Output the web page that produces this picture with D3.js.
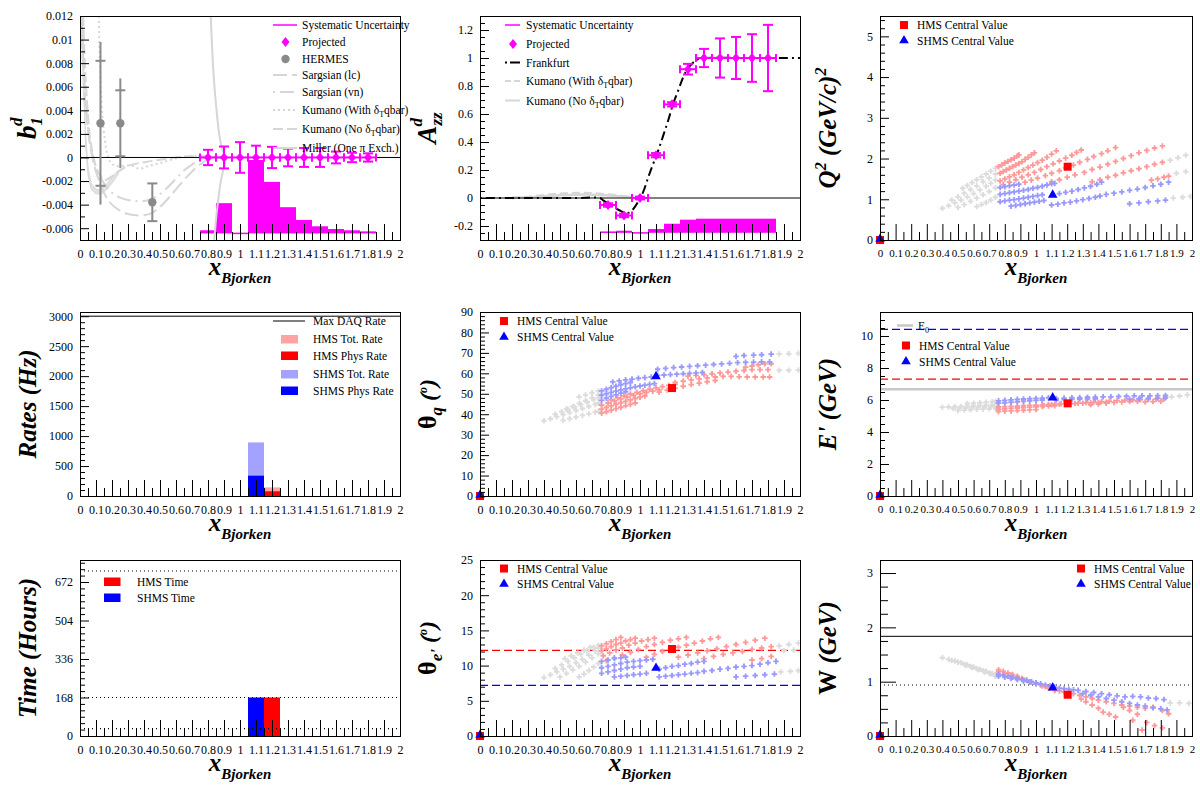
<!DOCTYPE html>
<html><head><meta charset="utf-8">
<script src="https://cdn.jsdelivr.net/npm/d3@7/dist/d3.min.js"></script>
<style>html,body{margin:0;padding:0;background:#fff;}svg{display:block;}</style>
</head><body>
<script>
// ---------------- DATA ----------------
const xLabels = ['0','0.1','0.2','0.3','0.4','0.5','0.6','0.7','0.8','0.9','1','1.1','1.2','1.3','1.4','1.5','1.6','1.7','1.8','1.9','2'];

// b1 panel
const projX = [0.8,0.9,1.0,1.1,1.2,1.3,1.4,1.5,1.6,1.7,1.8];
const b1Proj = [0,0,0,0,0,0,0,0,0,0,0];
const b1Err = [0.00065,0.00093,0.0013,0.001,0.0009,0.00075,0.0008,0.0008,0.0005,0.0004,0.00035];
const b1SysTop = [-0.00624,-0.00394,-0.00644,-0.00028,-0.00213,-0.00428,-0.00536,-0.0059,-0.00613,-0.00624,-0.00633];
const b1SysBase = -0.00644;
const hermesX = [0.128,0.252,0.452];
const hermesY = [0.0029,0.0029,-0.0038];
const hermesStat = [0.0053,0.0028,0.0016];
const hermesTot = [0.0069,0.0038,0.0016];
const sargLc = [[0.005,0.012],[0.02,0.0075],[0.04,0.0035],[0.07,0.0005],[0.1,-0.0012],[0.15,-0.003],[0.2,-0.004],[0.25,-0.0045],[0.3,-0.0048],[0.35,-0.0049],[0.4,-0.0049],[0.45,-0.0047],[0.5,-0.0042],[0.55,-0.0035],[0.6,-0.0027],[0.65,-0.0019],[0.7,-0.0012],[0.75,-0.0006],[0.8,-0.0002],[0.9,0]];
const sargVn = [[0.01,0.012],[0.03,0.006],[0.06,0.0015],[0.1,-0.0008],[0.15,-0.0022],[0.2,-0.003],[0.25,-0.0034],[0.3,-0.0036],[0.35,-0.0037],[0.4,-0.0037],[0.45,-0.0035],[0.5,-0.0031],[0.55,-0.0025],[0.6,-0.0018],[0.65,-0.0011],[0.7,-0.0006],[0.75,-0.0002],[0.8,0],[0.9,0]];
const kumWith = [[0.118,0.012],[0.122,0.009],[0.13,0.006],[0.14,0.0035],[0.155,0.0015],[0.17,0.0003],[0.19,-0.0004],[0.22,-0.0007],[0.32,-0.0007],[0.375,-0.00096],[0.417,-0.00077],[0.5,-0.00048],[0.583,-0.00014],[0.69,0.00014],[0.8,0.0001],[0.9,0]];
const kumNo = [[0.02,0.012],[0.03,0.008],[0.045,0.0045],[0.06,0.002],[0.08,0.0003],[0.1,-0.0008],[0.13,-0.0016],[0.16,-0.0019],[0.2,-0.0016],[0.25,-0.0011],[0.3,-0.0007],[0.4,-0.0004],[0.5,-0.0002],[0.6,0],[0.7,0.0001],[0.9,0]];
const millerPole = [[0.817,0.012],[0.825,0.0095],[0.835,0.007],[0.85,0.0045],[0.865,0.0025],[0.88,0.0012],[0.9,0.0003],[0.912,0.0],[0.9,-0.0008],[0.88,-0.002],[0.865,-0.0035],[0.852,-0.005],[0.842,-0.0065],[0.838,-0.007]];
const millerBand = [[0.01,0.012],[0.02,0.006],[0.035,0.002],[0.05,-0.0008],[0.07,-0.0022],[0.1,-0.0027],[0.13,-0.0027],[0.17,-0.0022],[0.21,-0.0015],[0.24,-0.0011],[0.24,-0.0014],[0.21,-0.002],[0.17,-0.0027],[0.13,-0.0031],[0.1,-0.0031],[0.07,-0.0027],[0.05,-0.0015],[0.035,0.001],[0.025,0.006],[0.018,0.012]];

// Azz panel
const azzProj = [-0.05,-0.125,0,0.306,0.669,0.92,1,1,1,1,1];
const azzErr = [0.012,0.012,0.01,0.015,0.015,0.038,0.065,0.14,0.15,0.17,0.237];
const azzSysTop = [-0.244,-0.239,-0.2495,-0.227,-0.189,-0.16,-0.153,-0.153,-0.153,-0.153,-0.153];
const azzSysBase = -0.2485;
const frankfurt = [[0,0],[0.3,0],[0.6,0],[0.75,0],[0.77,-0.017],[0.81,-0.045],[0.865,-0.084],[0.917,-0.11],[0.954,-0.084],[0.99,-0.024],[1.02,0.043],[1.052,0.15],[1.083,0.246],[1.115,0.342],[1.146,0.449],[1.177,0.557],[1.208,0.676],[1.24,0.772],[1.27,0.863],[1.3,0.927],[1.333,0.968],[1.365,0.992],[1.417,1.0],[1.7,1.0],[2.0,1.0]];
const azzKumWith = [[0.2,0.0],[0.3,0.008],[0.4,0.02],[0.5,0.03],[0.6,0.035],[0.7,0.033],[0.8,0.025],[0.9,0.012],[0.95,0.005]];
const azzKumNo = [[0.2,0.0],[0.3,0.005],[0.4,0.013],[0.5,0.02],[0.6,0.024],[0.7,0.024],[0.8,0.018],[0.9,0.01],[0.95,0.004]];

// Q2 panel
const q2Grey = [
 [[0.53,1.27],[0.56,1.34],[0.59,1.41],[0.62,1.48],[0.65,1.55],[0.68,1.62],[0.71,1.69],[0.74,1.76]],
 [[0.46,0.98],[0.50,1.06],[0.54,1.15],[0.58,1.24],[0.62,1.33],[0.66,1.43],[0.70,1.52],[0.74,1.62]],
 [[0.40,0.78],[0.44,0.84],[0.48,0.91],[0.52,0.98],[0.56,1.06],[0.60,1.14],[0.64,1.23],[0.68,1.32],[0.71,1.39],[0.74,1.47]],
 [[0.50,0.80],[0.54,0.87],[0.58,0.95],[0.62,1.03],[0.66,1.11],[0.70,1.19],[0.74,1.28]],
 [[0.62,0.82],[0.65,0.87],[0.68,0.92],[0.71,0.98],[0.74,1.05]],
 [[1.86,1.96],[1.91,2.02],[1.96,2.08]],
 [[1.90,1.64],[1.96,1.68]],
 [[1.88,1.03],[1.94,1.05],[1.99,1.07]]];
const q2Red = [
 [[0.76,1.80],[0.78,1.84],[0.80,1.89],[0.82,1.93],[0.84,1.97],[0.86,2.01],[0.88,2.06],[0.89,2.09]],
 [[0.77,1.64],[0.79,1.68],[0.81,1.72],[0.83,1.76],[0.85,1.80],[0.87,1.84],[0.89,1.88],[0.91,1.92],[0.93,1.98],[0.95,2.03],[0.97,2.09],[0.99,2.14]],
 [[0.77,1.45],[0.80,1.50],[0.83,1.55],[0.86,1.60],[0.89,1.66],[0.92,1.72],[0.95,1.78],[0.98,1.84],[1.01,1.90],[1.04,1.96],[1.07,2.03],[1.10,2.11],[1.13,2.19]],
 [[0.79,1.36],[0.83,1.42],[0.87,1.48],[0.91,1.54],[0.95,1.60],[0.99,1.66],[1.03,1.73],[1.07,1.80],[1.11,1.87],[1.15,1.94],[1.19,2.01],[1.23,2.08],[1.26,2.15],[1.29,2.21]],
 [[0.93,1.42],[0.97,1.47],[1.01,1.52],[1.06,1.58],[1.10,1.64],[1.15,1.70],[1.19,1.77],[1.24,1.84],[1.28,1.91],[1.33,1.98],[1.37,2.05],[1.42,2.12],[1.46,2.19],[1.51,2.27]],
 [[1.10,1.43],[1.15,1.48],[1.20,1.54],[1.25,1.60],[1.31,1.66],[1.36,1.73],[1.41,1.79],[1.46,1.86],[1.51,1.93],[1.56,2.00],[1.61,2.07],[1.66,2.14],[1.71,2.20],[1.76,2.26],[1.81,2.31]],
 [[1.36,1.43],[1.41,1.48],[1.46,1.54],[1.51,1.59],[1.56,1.65],[1.61,1.70],[1.66,1.75],[1.71,1.80],[1.76,1.86],[1.81,1.91]],
 [[1.74,1.47],[1.78,1.50],[1.82,1.54],[1.85,1.57]]];
const q2Blue = [
 [[0.77,1.29],[0.80,1.31],[0.83,1.33],[0.86,1.35],[0.89,1.37]],
 [[0.77,1.12],[0.80,1.14],[0.83,1.16],[0.86,1.18],[0.89,1.20],[0.92,1.22],[0.95,1.24],[0.98,1.27],[1.01,1.29],[1.04,1.32],[1.07,1.35],[1.10,1.38],[1.12,1.39]],
 [[0.77,0.94],[0.80,0.96],[0.83,0.98],[0.86,0.99],[0.89,1.01],[0.92,1.03],[0.95,1.05],[0.98,1.07],[1.01,1.09],[1.04,1.11]],
 [[0.84,0.83],[0.87,0.85],[0.90,0.87],[0.93,0.89],[0.96,0.91],[0.99,0.93],[1.02,0.95],[1.05,0.97]],
 [[1.10,0.86],[1.14,0.88],[1.18,0.91],[1.22,0.93],[1.26,0.96],[1.30,0.99],[1.34,1.02],[1.38,1.05],[1.41,1.08]],
 [[1.15,1.14],[1.19,1.17],[1.23,1.20],[1.27,1.24],[1.31,1.28],[1.35,1.32],[1.39,1.37],[1.42,1.42]],
 [[1.45,1.12],[1.50,1.15],[1.55,1.18],[1.60,1.22],[1.65,1.25],[1.70,1.29],[1.75,1.33],[1.80,1.37],[1.85,1.42]],
 [[1.60,0.89],[1.66,0.91],[1.72,0.94],[1.78,0.96],[1.83,0.98]]];
const hmsQ2 = [1.203,1.80], shmsQ2 = [1.107,1.107];

// Rates panel
const shmsBin = [1.05,1.15], hmsBin = [1.15,1.25];
const shmsTotRate = 894, shmsPhysRate = 339, hmsTotRate = 144, hmsPhysRate = 78;
const maxDaqRate = 3000;

// theta_q panel
const thqGrey = [
 [[0.40,36.8],[0.44,37.8],[0.48,38.8],[0.52,39.8],[0.56,40.8],[0.60,41.8],[0.64,42.8],[0.68,43.8],[0.72,44.8],[0.74,45.4]],
 [[0.47,40.0],[0.51,41.2],[0.55,42.4],[0.59,43.6],[0.63,44.8],[0.67,46.0],[0.71,47.2],[0.74,48.0]],
 [[0.54,42.5],[0.58,43.8],[0.62,45.2],[0.66,46.6],[0.70,48.0],[0.74,49.4]],
 [[0.62,48.5],[0.66,49.5],[0.70,50.5],[0.74,51.4]],
 [[0.52,37.0],[0.56,37.8],[0.60,38.6],[0.64,39.4],[0.68,40.2],[0.72,41.0],[0.74,41.4]],
 [[1.87,69.5],[1.93,69.6],[1.99,69.8]],
 [[1.87,61.5],[1.93,61.5],[1.99,61.6]]];
const thqRed = [
 [[0.76,40.5],[0.79,41.2],[0.82,42.0],[0.85,42.7],[0.88,43.4],[0.91,44.1],[0.94,44.8],[0.97,45.5]],
 [[0.76,42.5],[0.79,43.3],[0.82,44.1],[0.85,44.9],[0.88,45.6],[0.91,46.3],[0.94,47.0],[0.97,47.7],[1.00,48.3],[1.03,48.9]],
 [[0.76,44.5],[0.80,45.5],[0.84,46.5],[0.88,47.5],[0.92,48.4],[0.96,49.2],[1.00,50.0],[1.04,50.7],[1.08,51.3],[1.12,51.9]],
 [[0.82,47.0],[0.86,48.0],[0.90,49.0],[0.94,49.9],[0.98,50.7],[1.02,51.5],[1.06,52.2],[1.10,52.9],[1.14,53.5],[1.18,54.1],[1.22,54.6]],
 [[1.12,50.8],[1.17,51.8],[1.22,52.8],[1.27,53.7],[1.32,54.5],[1.37,55.2],[1.42,55.9],[1.47,56.5]],
 [[1.22,55.5],[1.27,56.2],[1.32,56.8],[1.37,57.3],[1.42,57.8],[1.47,58.2],[1.52,58.5],[1.57,58.5],[1.62,58.3],[1.67,58.2],[1.72,58.2],[1.77,58.2],[1.81,58.2]],
 [[1.30,58.6],[1.35,59.0],[1.40,59.4],[1.45,59.8],[1.50,60.2],[1.55,60.6],[1.60,61.0],[1.65,61.4],[1.70,61.8],[1.75,61.8],[1.80,61.8]],
 [[1.66,63.0],[1.70,63.6],[1.74,64.2],[1.78,64.7],[1.82,64.7]]];
const thqBlue = [
 [[0.76,46.8],[0.79,47.8],[0.82,48.7],[0.85,49.5],[0.88,50.3],[0.91,51.0]],
 [[0.76,49.3],[0.79,50.0],[0.82,50.7],[0.85,51.3],[0.88,51.9],[0.91,52.4],[0.94,52.9],[0.97,53.4],[1.00,53.8],[1.03,54.2],[1.06,54.6],[1.09,55.0]],
 [[0.76,51.4],[0.79,52.2],[0.82,53.0],[0.85,53.7],[0.88,54.4],[0.91,55.0],[0.94,55.5]],
 [[0.83,55.8],[0.87,56.3],[0.91,56.8],[0.95,57.2],[0.99,57.6],[1.03,57.9],[1.07,58.2]],
 [[1.11,59.0],[1.15,59.2],[1.19,59.4],[1.23,59.6],[1.27,59.8],[1.31,60.0],[1.35,60.2],[1.39,60.4]],
 [[1.11,62.0],[1.16,62.4],[1.21,62.8],[1.26,63.1],[1.31,63.4],[1.36,63.7],[1.41,64.0],[1.46,64.3],[1.51,64.6],[1.56,64.9],[1.61,65.2],[1.66,65.4],[1.71,65.5],[1.76,65.6],[1.81,65.6]],
 [[1.60,68.3],[1.65,68.7],[1.71,68.9],[1.76,69.1],[1.82,69.4]]];
const hmsThq = [1.2,52.8], shmsThq = [1.1,58.5];

// E' panel
const epGrey = [
 [[0.40,5.55],[0.44,5.56],[0.48,5.58],[0.52,5.60],[0.56,5.62],[0.60,5.64],[0.64,5.66],[0.68,5.68],[0.72,5.70],[0.74,5.71]],
 [[0.50,5.35],[0.54,5.37],[0.58,5.39],[0.62,5.41],[0.66,5.43],[0.70,5.45],[0.74,5.47]],
 [[0.47,5.47],[0.51,5.49],[0.55,5.51],[0.59,5.53],[0.63,5.55],[0.67,5.57],[0.71,5.59],[0.74,5.60]],
 [[0.56,5.78],[0.60,5.80],[0.64,5.83],[0.68,5.86],[0.72,5.89],[0.74,5.91]],
 [[1.87,6.20],[1.92,6.25],[1.97,6.32]]];
const epRed = [
 [[0.76,5.28],[0.80,5.30],[0.84,5.32],[0.88,5.34],[0.92,5.36],[0.96,5.38],[1.00,5.40]],
 [[0.76,5.42],[0.80,5.45],[0.84,5.48],[0.88,5.50],[0.92,5.52],[0.96,5.55],[1.00,5.57],[1.04,5.60],[1.08,5.62],[1.12,5.64]],
 [[0.76,5.56],[0.80,5.58],[0.84,5.60],[0.88,5.62],[0.92,5.64],[0.96,5.66],[1.00,5.68],[1.04,5.70],[1.08,5.72],[1.12,5.74],[1.16,5.76],[1.20,5.78]],
 [[1.00,5.62],[1.05,5.66],[1.10,5.70],[1.15,5.73],[1.20,5.76],[1.25,5.78],[1.30,5.80],[1.35,5.82],[1.40,5.84],[1.45,5.86]],
 [[1.22,5.76],[1.27,5.80],[1.32,5.84],[1.37,5.87],[1.42,5.90],[1.47,5.93],[1.52,5.96],[1.57,5.98],[1.62,6.00],[1.67,6.02],[1.72,6.04],[1.77,6.05],[1.82,6.07]],
 [[1.35,5.70],[1.40,5.75],[1.45,5.80],[1.50,5.85],[1.55,5.88],[1.60,5.90],[1.65,5.92],[1.70,5.88],[1.75,5.90],[1.80,5.92]]];
const epBlue = [
 [[0.76,5.95],[0.80,5.98],[0.84,6.01],[0.88,6.04],[0.92,6.06],[0.96,6.08],[1.00,6.10],[1.04,6.12],[1.08,6.14]],
 [[0.76,5.80],[0.80,5.83],[0.84,5.86],[0.88,5.89],[0.92,5.92],[0.96,5.95],[1.00,5.98],[1.04,6.00]],
 [[1.13,6.10],[1.18,6.12],[1.23,6.14],[1.28,6.15],[1.33,6.17],[1.38,6.18],[1.43,6.20],[1.48,6.20],[1.53,6.22],[1.58,6.24],[1.63,6.26],[1.68,6.26],[1.73,6.26],[1.78,6.27],[1.83,6.28]],
 [[1.13,6.00],[1.18,6.02],[1.23,6.04],[1.28,6.06],[1.33,6.07],[1.38,6.08],[1.60,6.05],[1.66,6.08],[1.72,6.10],[1.78,6.12],[1.83,6.14]]];
const hmsEp = [1.203,5.79], shmsEp = [1.107,6.15];
const e0Line = 6.67, hmsMaxP = 7.31, shmsMaxP = 10.42;

// Time panel
const shmsTime = 168, hmsTime = 168;
const timeDotted = [720,168,32];

// theta_e panel
const theGrey = [
 [[0.40,8.3],[0.44,8.7],[0.48,9.1],[0.52,9.5],[0.56,9.9],[0.60,10.4],[0.64,10.9],[0.68,11.5],[0.72,12.1],[0.74,12.5]],
 [[0.50,8.4],[0.54,8.9],[0.58,9.4],[0.62,9.9],[0.66,10.5],[0.70,11.1],[0.74,11.7]],
 [[0.47,9.6],[0.51,10.1],[0.55,10.6],[0.59,11.1],[0.63,11.6],[0.67,12.1],[0.71,12.6],[0.74,12.9]],
 [[0.62,8.4],[0.65,8.8],[0.68,9.3],[0.71,9.8],[0.74,10.3]],
 [[0.53,11.0],[0.57,11.4],[0.61,11.8],[0.65,12.2],[0.69,12.6]],
 [[1.87,12.8],[1.93,13.0],[1.99,13.2]],
 [[1.90,12.1],[1.96,12.2]],
 [[1.88,9.1],[1.94,9.2],[1.99,9.3]]];
const theRed = [
 [[0.76,12.8],[0.79,13.1],[0.82,13.4],[0.85,13.7],[0.88,14.0]],
 [[0.76,12.1],[0.79,12.4],[0.82,12.7],[0.85,13.0],[0.88,13.2],[0.91,13.5],[0.94,13.7],[0.97,13.9]],
 [[0.77,11.4],[0.81,11.8],[0.85,12.2],[0.89,12.5],[0.93,12.9],[0.97,13.2],[1.01,13.5],[1.05,13.7],[1.09,13.9]],
 [[0.79,10.7],[0.84,11.1],[0.89,11.5],[0.94,11.9],[0.99,12.3],[1.04,12.7],[1.09,13.0],[1.14,13.3],[1.19,13.6],[1.24,13.8],[1.29,14.0]],
 [[1.04,11.2],[1.09,11.6],[1.14,12.0],[1.19,12.3],[1.24,12.6],[1.29,12.9],[1.34,13.2],[1.39,13.5],[1.44,13.8],[1.49,14.0]],
 [[1.24,11.2],[1.30,11.5],[1.36,11.8],[1.42,12.1],[1.48,12.4],[1.54,12.7],[1.60,13.0],[1.66,13.3],[1.72,13.6],[1.78,13.9]],
 [[1.40,11.0],[1.46,11.3],[1.52,11.6],[1.58,11.8],[1.64,12.0],[1.70,12.3],[1.76,12.5],[1.82,12.7]],
 [[1.70,10.8],[1.76,11.0],[1.82,11.3]]];
const theBlue = [
 [[0.76,10.6],[0.80,10.8],[0.84,11.0],[0.88,11.1],[0.91,11.2]],
 [[0.76,9.7],[0.80,9.9],[0.84,10.1],[0.88,10.3],[0.92,10.5],[0.96,10.6],[1.00,10.7],[1.04,10.8],[1.08,10.9]],
 [[0.76,8.9],[0.80,9.1],[0.84,9.3],[0.88,9.5],[0.92,9.7],[0.96,9.8],[1.00,9.9]],
 [[0.84,8.4],[0.88,8.5],[0.92,8.6],[0.96,8.7],[1.00,8.8],[1.04,8.9]],
 [[1.12,9.5],[1.16,9.7],[1.20,9.9],[1.24,10.0],[1.28,10.2],[1.32,10.3],[1.36,10.5],[1.40,10.6]],
 [[1.12,8.4],[1.16,8.5],[1.20,8.6],[1.24,8.7],[1.28,8.8],[1.32,8.9],[1.36,9.0],[1.40,9.2],[1.45,9.3],[1.50,9.5],[1.55,9.6],[1.60,9.8],[1.65,9.9],[1.70,10.0],[1.75,10.2],[1.80,10.4],[1.85,10.6]],
 [[1.60,8.4],[1.66,8.5],[1.72,8.6],[1.78,8.7],[1.84,8.8]]];
const hmsThe = [1.2,12.36], shmsThe = [1.1,9.66];
const hmsMinAngle = 12.17, shmsMinAngle = 7.2;

// W panel
const wGrey = [
 [[0.40,1.44],[0.44,1.41],[0.48,1.38],[0.52,1.35],[0.56,1.31],[0.60,1.27],[0.64,1.23],[0.68,1.19],[0.72,1.15],[0.74,1.13]],
 [[0.46,1.39],[0.50,1.36],[0.54,1.32],[0.58,1.28],[0.62,1.24],[0.66,1.20],[0.70,1.16],[0.74,1.12]],
 [[0.55,1.30],[0.59,1.26],[0.63,1.22],[0.67,1.18],[0.71,1.14],[0.74,1.10]],
 [[1.86,0.61],[1.92,0.61],[1.98,0.60]]];
const wRed = [
 [[0.76,1.22],[0.79,1.19],[0.82,1.16],[0.85,1.13],[0.88,1.10],[0.91,1.06],[0.94,1.03],[0.97,1.00],[1.00,0.97],[1.03,0.94],[1.06,0.91],[1.09,0.88],[1.12,0.85],[1.15,0.83],[1.18,0.81],[1.21,0.79]],
 [[0.76,1.18],[0.80,1.15],[0.84,1.12],[0.88,1.08],[0.92,1.04],[0.96,1.00],[1.00,0.96],[1.04,0.92],[1.08,0.88],[1.12,0.84]],
 [[1.24,0.78],[1.28,0.75],[1.32,0.72],[1.36,0.69],[1.40,0.66],[1.45,0.63],[1.50,0.60],[1.55,0.57],[1.60,0.55],[1.65,0.53],[1.70,0.51],[1.75,0.53],[1.81,0.47],[1.85,0.41]],
 [[1.29,0.68],[1.32,0.63],[1.36,0.57],[1.40,0.51],[1.43,0.44],[1.47,0.40],[1.51,0.35]],
 [[1.56,0.53],[1.60,0.47],[1.65,0.40],[1.71,0.25],[1.76,0.19],[1.81,0.15]],
 [[1.62,0.29],[1.68,0.11]]];
const wBlue = [
 [[0.76,1.14],[0.79,1.12],[0.82,1.10],[0.85,1.08],[0.88,1.06],[0.91,1.04],[0.94,1.02],[0.97,1.00],[1.00,0.98],[1.03,0.96],[1.06,0.94],[1.09,0.92],[1.12,0.90],[1.15,0.88],[1.18,0.87],[1.21,0.86],[1.24,0.85]],
 [[0.76,1.10],[0.80,1.08],[0.84,1.06],[0.88,1.04],[0.92,1.01],[0.96,0.99],[1.00,0.96]],
 [[1.27,0.84],[1.32,0.82],[1.37,0.80],[1.42,0.78],[1.47,0.76],[1.52,0.74],[1.57,0.72],[1.62,0.73],[1.67,0.72],[1.72,0.70],[1.77,0.69],[1.82,0.67]],
 [[1.30,0.78],[1.35,0.75],[1.40,0.72],[1.45,0.69],[1.50,0.66],[1.55,0.63],[1.60,0.60],[1.65,0.57],[1.70,0.55],[1.75,0.52],[1.80,0.50],[1.84,0.48]]];
const hmsW = [1.203,0.76], shmsW = [1.107,0.89];
const wSolid = 1.835, wDotted = 0.939;

// y-axis ticks
const b1YMajor = [-0.006,-0.004,-0.002,0,0.002,0.004,0.006,0.008,0.01,0.012];
const b1YLabels = ['-0.006','-0.004','-0.002','0','0.002','0.004','0.006','0.008','0.01','0.012'];
const azzYMajor = [-0.2,0,0.2,0.4,0.6,0.8,1,1.2];
const azzYLabels = ['-0.2','0','0.2','0.4','0.6','0.8','1','1.2'];
const q2YMajor = [0,1,2,3,4,5], q2YLabels = ['0','1','2','3','4','5'];
const rateYMajor = [0,500,1000,1500,2000,2500,3000], rateYLabels = ['0','500','1000','1500','2000','2500','3000'];
const thqYMajor = [0,10,20,30,40,50,60,70,80,90], thqYLabels = ['0','10','20','30','40','50','60','70','80','90'];
const epYMajor = [0,2,4,6,8,10], epYLabels = ['0','2','4','6','8','10'];
const timeYMajor = [0,168,336,504,672], timeYLabels = ['0','168','336','504','672'];
const theYMajor = [0,5,10,15,20,25], theYLabels = ['0','5','10','15','20','25'];
const wYMajor = [0,1,2,3], wYLabels = ['0','1','2','3'];

// ---------------- DRAWING ----------------
const FONT = '"Liberation Serif","Times New Roman",Times,serif';
const MAG = '#ff00ff', LRED = '#ff9999', LBLUE = '#9999ff', LGREY = '#dcdcdc', CURVE = '#d6d6d6';
const cols = [[80,400],[480,800],[880,1192]];
const rows = [[16,240],[312,496],[560,736]];
const xMajor = xLabels.map(Number);
const xMinor = d3.range(0.05, 2, 0.1);

const svg = d3.select('body').append('svg').attr('width',1200).attr('height',800);
svg.append('rect').attr('width',1200).attr('height',800).attr('fill','#fff');
const defs = svg.append('defs');
let clipN = 0;

function makePanel(c, r, yDomain) {
  const [x0,x1] = cols[c], [y0,y1] = rows[r];
  const x = d3.scaleLinear().domain([0,2]).range([x0,x1]);
  const y = d3.scaleLinear().domain(yDomain).range([y1,y0]);
  const id = 'clip' + (clipN++);
  defs.append('clipPath').attr('id',id).append('rect').attr('x',x0).attr('y',y0).attr('width',x1-x0).attr('height',y1-y0);
  const plot = svg.append('g').attr('clip-path',`url(#${id})`);
  return {x,y,plot,x0,x1,y0,y1,c};
}
function minorTicks(domain, step, majors) {
  const out = [];
  const n0 = Math.ceil(domain[0]/step - 1e-9), n1 = Math.floor(domain[1]/step + 1e-9);
  for (let k=n0;k<=n1;k++){ const v=k*step; if(!majors.some(m=>Math.abs(m-v)<step*1e-3)) out.push(v); }
  return out;
}
function drawAxes(p, yMajor, yLabels, yMinor, tl) {
  tl = tl || [9,5];
  const style = (fs) => g => { g.select('.domain').remove(); g.attr('font-family',FONT).attr('font-size',fs);
    g.selectAll('text').attr('fill','#000'); g.selectAll('line').attr('stroke','#000'); };
  const xfs = p.c === 2 ? 11 : 12;
  svg.append('g').attr('transform',`translate(0,${p.y1})`)
    .call(d3.axisBottom(p.x).tickValues(xMajor).tickSize(-16).tickSizeOuter(0).tickPadding(9).tickFormat((d,i)=>xLabels[i])).call(style(xfs));
  svg.append('g').attr('transform',`translate(0,${p.y1})`)
    .call(d3.axisBottom(p.x).tickValues(xMinor).tickSize(-8).tickSizeOuter(0).tickFormat('')).call(style(12));
  svg.append('g').attr('transform',`translate(${p.x0},0)`)
    .call(d3.axisLeft(p.y).tickValues(yMajor).tickSize(-tl[0]).tickSizeOuter(0).tickPadding(7).tickFormat((d,i)=>yLabels[i])).call(style(12));
  svg.append('g').attr('transform',`translate(${p.x0},0)`)
    .call(d3.axisLeft(p.y).tickValues(yMinor).tickSize(-tl[1]).tickSizeOuter(0).tickFormat('')).call(style(12));
  svg.append('rect').attr('x',p.x0+0.5).attr('y',p.y0+0.5).attr('width',p.x1-p.x0).attr('height',p.y1-p.y0)
    .attr('fill','none').attr('stroke','#000').attr('stroke-width',1);
}
function xTitle(p) {
  const t = svg.append('text').attr('x',(p.x0+p.x1)/2).attr('y',p.y1+35).attr('text-anchor','middle')
    .attr('font-family',FONT).attr('font-weight','bold').attr('font-style','italic');
  t.append('tspan').attr('font-size',25).text('x');
  t.append('tspan').attr('font-size',15).attr('dy',8).text('Bjorken');
}
function yTitle(p, parts) {
  const t = svg.append('text').attr('transform',`translate(${p.x0-44},${(p.y0+p.y1)/2}) rotate(-90)`)
    .attr('text-anchor','middle').attr('font-family',FONT).attr('font-weight','bold').attr('font-style','italic');
  parts.forEach(q => { const s = t.append('tspan').attr('font-size',q.s).text(q.t);
    if (q.dy) s.attr('dy',q.dy); if (q.dx) s.attr('dx',q.dx); if (q.st) s.attr('font-style',q.st); });
}
function legText(x, y, parts) {
  const t = svg.append('text').attr('x',x).attr('y',y+4).attr('font-family',FONT).attr('font-size',11.5).attr('fill','#000');
  if (typeof parts === 'string') parts = [{t:parts}];
  parts.forEach(q => { const s = t.append('tspan').text(q.t); if (q.dy) s.attr('dy',q.dy); if (q.s) s.attr('font-size',q.s); });
  return t;
}
const lineGen = (p, curve) => d3.line().x(d=>p.x(d[0])).y(d=>p.y(d[1])).curve(curve || d3.curveLinear);
const crossSym = d3.symbol().type(d3.symbolCross).size(17);
function scatter(p, bands, color) {
  p.plot.append('g').selectAll('path').data(bands.flat()).join('path')
    .attr('d', crossSym).attr('transform', d=>`translate(${p.x(d[0])},${p.y(d[1])})`).attr('fill', color);
}
const sqSym = d3.symbol().type(d3.symbolSquare).size(64);
const triSym = d3.symbol().type(d3.symbolTriangle).size(40);
function centrals(p, hms, shms) {
  const g = svg.append('g');
  g.append('path').attr('d',sqSym).attr('transform',`translate(${p.x(0)},${p.y(0)})`).attr('fill','#ff0000');
  g.append('path').attr('d',triSym).attr('transform',`translate(${p.x(0)},${p.y(0)-1})`).attr('fill','#0000ff');
  g.append('path').attr('d',sqSym).attr('transform',`translate(${p.x(hms[0])},${p.y(hms[1])})`).attr('fill','#ff0000');
  g.append('path').attr('d',triSym).attr('transform',`translate(${p.x(shms[0])},${p.y(shms[1])})`).attr('fill','#0000ff');
}
function centralLegend(xs, y1, y2) {
  svg.append('path').attr('d',sqSym).attr('transform',`translate(${xs},${y1})`).attr('fill','#ff0000');
  legText(xs+13, y1, 'HMS Central Value');
  svg.append('path').attr('d',triSym).attr('transform',`translate(${xs},${y2})`).attr('fill','#0000ff');
  legText(xs+13, y2, 'SHMS Central Value');
}
function diamond(g, cx, cy) {
  g.append('path').attr('d',`M${cx},${cy-5}L${cx+4},${cy}L${cx},${cy+5}L${cx-4},${cy}Z`).attr('fill',MAG);
}
function projected(p, vals, errs) {
  const g = p.plot.append('g').attr('stroke',MAG).attr('stroke-width',2);
  projX.forEach((xv,i) => {
    const cy = p.y(vals[i]), xa = p.x(xv-0.05), xb = p.x(xv+0.05), cx = p.x(xv);
    g.append('line').attr('x1',xa).attr('x2',xb).attr('y1',cy).attr('y2',cy);
    g.append('line').attr('x1',xa).attr('x2',xa).attr('y1',cy-4).attr('y2',cy+4);
    g.append('line').attr('x1',xb).attr('x2',xb).attr('y1',cy-4).attr('y2',cy+4);
    const ya = p.y(vals[i]+errs[i]), yb = p.y(vals[i]-errs[i]);
    g.append('line').attr('x1',cx).attr('x2',cx).attr('y1',ya).attr('y2',yb);
    g.append('line').attr('x1',cx-5).attr('x2',cx+5).attr('y1',ya).attr('y2',ya);
    g.append('line').attr('x1',cx-5).attr('x2',cx+5).attr('y1',yb).attr('y2',yb);
    diamond(p.plot, cx, cy);
  });
}
function sysBars(p, tops, base) {
  const g = p.plot.append('g');
  projX.forEach((xv,i) => {
    const ya = p.y(Math.max(tops[i],base)), yb = p.y(Math.min(tops[i],base));
    g.append('rect').attr('x',p.x(xv-0.05)).attr('width',p.x(0.1)-p.x(0)).attr('y',ya).attr('height',Math.max(yb-ya,0)).attr('fill',MAG);
    g.append('line').attr('x1',p.x(xv-0.05)).attr('x2',p.x(xv+0.05)).attr('y1',p.y(tops[i])).attr('y2',p.y(tops[i])).attr('stroke',MAG).attr('stroke-width',1.5);
  });
}
function hline(p, v, color, dash, w) {
  p.plot.append('line').attr('x1',p.x(0)).attr('x2',p.x(2)).attr('y1',p.y(v)).attr('y2',p.y(v))
    .attr('stroke',color).attr('stroke-width',w||1).attr('stroke-dasharray',dash||null);
}

// ===== Panel 1: b1 =====
{
  const dom = [-0.007,0.012];
  const p = makePanel(0,0,dom);
  p.plot.append('path').datum(millerBand).attr('d',lineGen(p)).attr('fill','#e2e2e2').attr('stroke','#dadada');
  sysBars(p, b1SysTop, b1SysBase);
  p.plot.append('path').datum(sargLc).attr('d',lineGen(p,d3.curveCatmullRom)).attr('fill','none').attr('stroke',CURVE).attr('stroke-width',2).attr('stroke-dasharray','14,5');
  p.plot.append('path').datum(sargVn).attr('d',lineGen(p,d3.curveCatmullRom)).attr('fill','none').attr('stroke',CURVE).attr('stroke-width',2).attr('stroke-dasharray','2,5,14,5');
  p.plot.append('path').datum(kumWith).attr('d',lineGen(p,d3.curveCatmullRom)).attr('fill','none').attr('stroke',CURVE).attr('stroke-width',2).attr('stroke-dasharray','2,3');
  p.plot.append('path').datum(kumNo).attr('d',lineGen(p,d3.curveCatmullRom)).attr('fill','none').attr('stroke',CURVE).attr('stroke-width',2).attr('stroke-dasharray','10,4');
  p.plot.append('path').datum(millerPole).attr('d',lineGen(p,d3.curveCatmullRom)).attr('fill','none').attr('stroke',CURVE).attr('stroke-width',2);
  hline(p, 0, '#000', null, 1);
  const hg = p.plot.append('g').attr('stroke','#8a8a8a').attr('stroke-width',2);
  hermesX.forEach((xv,i) => {
    const cx = p.x(xv);
    hg.append('line').attr('x1',cx).attr('x2',cx).attr('y1',p.y(hermesY[i]+hermesTot[i])).attr('y2',p.y(hermesY[i]-hermesTot[i]));
    [hermesY[i]+hermesStat[i], hermesY[i]-hermesStat[i]].forEach(v =>
      hg.append('line').attr('x1',cx-5).attr('x2',cx+5).attr('y1',p.y(v)).attr('y2',p.y(v)));
    p.plot.append('circle').attr('cx',cx).attr('cy',p.y(hermesY[i])).attr('r',4.2).attr('fill','#8a8a8a');
  });
  projected(p, b1Proj, b1Err);
  drawAxes(p, b1YMajor, b1YLabels, minorTicks(dom,0.001,b1YMajor));
  xTitle(p);
  yTitle(p, [{t:'b',s:27},{t:'1',s:17,dy:6},{t:'d',s:17,dx:-9,dy:-20}]);
  const lx0 = 273, lx1 = 297, tx = 302;
  svg.append('line').attr('x1',lx0).attr('x2',lx1).attr('y1',25).attr('y2',25).attr('stroke',MAG).attr('stroke-width',1.5);
  legText(tx,25,'Systematic Uncertainty');
  diamond(svg, 285.5, 42); legText(tx,42,'Projected');
  svg.append('circle').attr('cx',285.5).attr('cy',59).attr('r',4.2).attr('fill','#8a8a8a'); legText(tx,59,'HERMES');
  const legLine = (y,dash) => svg.append('line').attr('x1',lx0).attr('x2',lx1).attr('y1',y).attr('y2',y).attr('stroke',CURVE).attr('stroke-width',2).attr('stroke-dasharray',dash);
  legLine(75,'14,5'); legText(tx,75,'Sargsian (lc)');
  legLine(92,'2,5,14,5'); legText(tx,92,'Sargsian (vn)');
  legLine(110,'2,3'); legText(tx,110,[{t:'Kumano (With δ'},{t:'T',s:8,dy:3},{t:'qbar)',dy:-3}]);
  legLine(129,'10,4'); legText(tx,129,[{t:'Kumano (No δ'},{t:'T',s:8,dy:3},{t:'qbar)',dy:-3}]);
  legLine(148,null); legText(tx,148,'Miller (One π Exch.)');
}

// ===== Panel 2: Azz =====
{
  const dom = [-0.3,1.3];
  const p = makePanel(1,0,dom);
  sysBars(p, azzSysTop, azzSysBase);
  p.plot.append('path').datum(azzKumWith).attr('d',lineGen(p,d3.curveCatmullRom)).attr('fill','none').attr('stroke',CURVE).attr('stroke-width',2.5).attr('stroke-dasharray','8,4');
  p.plot.append('path').datum(azzKumNo).attr('d',lineGen(p,d3.curveCatmullRom)).attr('fill','none').attr('stroke',CURVE).attr('stroke-width',2.5);
  hline(p, 0, '#000', null, 1);
  p.plot.append('path').datum(frankfurt).attr('d',lineGen(p,d3.curveCatmullRom)).attr('fill','none').attr('stroke','#000').attr('stroke-width',2).attr('stroke-dasharray','2,4,9,4');
  projected(p, azzProj, azzErr);
  drawAxes(p, azzYMajor, azzYLabels, minorTicks(dom,0.05,azzYMajor));
  xTitle(p);
  yTitle(p, [{t:'A',s:27},{t:'zz',s:17,dy:6},{t:'d',s:17,dx:-14,dy:-20}]);
  const lx0 = 505, lx1 = 520, tx = 526;
  svg.append('line').attr('x1',lx0).attr('x2',lx1).attr('y1',25).attr('y2',25).attr('stroke',MAG).attr('stroke-width',1.5);
  legText(tx,25,'Systematic Uncertainty');
  diamond(svg, 513, 44); legText(tx,44,'Projected');
  svg.append('line').attr('x1',lx0).attr('x2',lx1).attr('y1',62.5).attr('y2',62.5).attr('stroke','#000').attr('stroke-width',2).attr('stroke-dasharray','2,3,10,3');
  legText(tx,62.5,'Frankfurt');
  svg.append('line').attr('x1',lx0).attr('x2',lx1).attr('y1',81).attr('y2',81).attr('stroke',CURVE).attr('stroke-width',2).attr('stroke-dasharray','6,3');
  legText(tx,81,[{t:'Kumano (With δ'},{t:'T',s:8,dy:3},{t:'qbar)',dy:-3}]);
  svg.append('line').attr('x1',lx0).attr('x2',lx1).attr('y1',100.5).attr('y2',100.5).attr('stroke',CURVE).attr('stroke-width',2);
  legText(tx,100.5,[{t:'Kumano (No δ'},{t:'T',s:8,dy:3},{t:'qbar)',dy:-3}]);
}

// ===== Panel 3: Q2 =====
{
  const dom = [0,5.5];
  const p = makePanel(2,0,dom);
  scatter(p, q2Grey, LGREY); scatter(p, q2Red, LRED); scatter(p, q2Blue, LBLUE);
  centrals(p, hmsQ2, shmsQ2);
  drawAxes(p, q2YMajor, q2YLabels, minorTicks(dom,0.2,q2YMajor));
  xTitle(p);
  yTitle(p, [{t:'Q',s:25},{t:'2',s:16,dy:-10},{t:' (GeV/c)',s:25,dy:10},{t:'2',s:16,dy:-10}]);
  centralLegend(904, 25, 40.5);
}

// ===== Panel 4: Rates =====
{
  const dom = [0,3070];
  const p = makePanel(0,1,dom);
  const bar = (bin, v, c) => p.plot.append('rect').attr('x',p.x(bin[0])).attr('width',p.x(bin[1])-p.x(bin[0])).attr('y',p.y(v)).attr('height',p.y(0)-p.y(v)).attr('fill',c);
  bar(shmsBin, shmsTotRate, '#a3a3ff'); bar(shmsBin, shmsPhysRate, '#0000ff');
  bar(hmsBin, hmsTotRate, '#ffa3a3'); bar(hmsBin, hmsPhysRate, '#ff0000');
  hline(p, maxDaqRate, '#000', null, 1);
  drawAxes(p, rateYMajor, rateYLabels, minorTicks(dom,100,rateYMajor));
  xTitle(p);
  yTitle(p, [{t:'Rates (Hz)',s:25}]);
  svg.append('line').attr('x1',273).attr('x2',305).attr('y1',321).attr('y2',321).attr('stroke','#000');
  legText(313,321,'Max DAQ Rate');
  [['#ffa3a3',339,'HMS Tot. Rate'],['#ff0000',355.5,'HMS Phys Rate'],['#a3a3ff',374,'SHMS Tot. Rate'],['#0000ff',390.5,'SHMS Phys Rate']].forEach(e => {
    svg.append('rect').attr('x',281).attr('y',e[1]-4).attr('width',17).attr('height',8.5).attr('fill',e[0]);
    legText(313,e[1],e[2]);
  });
}

// ===== Panel 5: theta_q =====
{
  const dom = [0,90];
  const p = makePanel(1,1,dom);
  scatter(p, thqGrey, LGREY); scatter(p, thqRed, LRED); scatter(p, thqBlue, LBLUE);
  centrals(p, hmsThq, shmsThq);
  drawAxes(p, thqYMajor, thqYLabels, minorTicks(dom,2,thqYMajor));
  xTitle(p);
  yTitle(p, [{t:'θ',s:26,st:'normal'},{t:'q',s:17,dy:6},{t:' (',s:24,dy:-6},{t:'o',s:12,dy:-9},{t:')',s:24,dy:9}]);
  centralLegend(504, 321, 337);
}

// ===== Panel 6: E' =====
{
  const dom = [0,11.5];
  const p = makePanel(2,1,dom);
  hline(p, e0Line, '#c8c8c8', null, 2.5);
  hline(p, hmsMaxP, '#ff0000', '8,4', 1.3);
  hline(p, shmsMaxP, '#0000ff', '8,4', 1.3);
  scatter(p, epGrey, LGREY); scatter(p, epRed, LRED); scatter(p, epBlue, LBLUE);
  centrals(p, hmsEp, shmsEp);
  drawAxes(p, epYMajor, epYLabels, minorTicks(dom,0.5,epYMajor));
  xTitle(p);
  yTitle(p, [{t:"E' (GeV)",s:25}]);
  svg.append('line').attr('x1',897).attr('x2',913).attr('y1',325.5).attr('y2',325.5).attr('stroke','#c8c8c8').attr('stroke-width',2.5);
  legText(918,325.5,[{t:'E'},{t:'0',s:8,dy:3}]);
  centralLegend(906, 345.5, 361.5);
}

// ===== Panel 7: Time =====
{
  const dom = [0,768];
  const p = makePanel(0,2,dom);
  const bar = (bin, v, c) => p.plot.append('rect').attr('x',p.x(bin[0])).attr('width',p.x(bin[1])-p.x(bin[0])).attr('y',p.y(v)).attr('height',p.y(0)-p.y(v)).attr('fill',c);
  bar(shmsBin, shmsTime, '#0000ff'); bar(hmsBin, hmsTime, '#ff0000');
  timeDotted.forEach(v => hline(p, v, '#000', '1,3', 1.2));
  drawAxes(p, timeYMajor, timeYLabels, minorTicks(dom,28,timeYMajor));
  xTitle(p);
  yTitle(p, [{t:'Time (Hours)',s:25}]);
  [['#ff0000',581.5,'HMS Time'],['#0000ff',597.5,'SHMS Time']].forEach(e => {
    svg.append('rect').attr('x',104).attr('y',e[1]-4).attr('width',16.5).attr('height',8.5).attr('fill',e[0]);
    legText(137,e[1],e[2]);
  });
}

// ===== Panel 8: theta_e =====
{
  const dom = [0,25];
  const p = makePanel(1,2,dom);
  hline(p, hmsMinAngle, '#ff0000', '8,4', 1.3);
  hline(p, shmsMinAngle, '#0000ff', '8,4', 1.3);
  scatter(p, theGrey, LGREY); scatter(p, theRed, LRED); scatter(p, theBlue, LBLUE);
  centrals(p, hmsThe, shmsThe);
  drawAxes(p, theYMajor, theYLabels, minorTicks(dom,1,theYMajor));
  xTitle(p);
  yTitle(p, [{t:'θ',s:26,st:'normal'},{t:"e'",s:17,dy:6},{t:' (',s:24,dy:-6},{t:'o',s:12,dy:-9},{t:')',s:24,dy:9}]);
  centralLegend(504, 568.5, 584);
}

// ===== Panel 9: W =====
{
  const dom = [0,3.24];
  const p = makePanel(2,2,dom);
  hline(p, wSolid, '#000', null, 1);
  hline(p, wDotted, '#000', '1,3', 1.2);
  scatter(p, wGrey, LGREY); scatter(p, wRed, LRED); scatter(p, wBlue, LBLUE);
  centrals(p, hmsW, shmsW);
  drawAxes(p, wYMajor, wYLabels, minorTicks(dom,0.25,wYMajor), [16,8]);
  xTitle(p);
  yTitle(p, [{t:'W',s:25,st:'normal'},{t:' (GeV)',s:25}]);
  centralLegend(1081, 568.5, 584);
}
</script>
</body></html>
